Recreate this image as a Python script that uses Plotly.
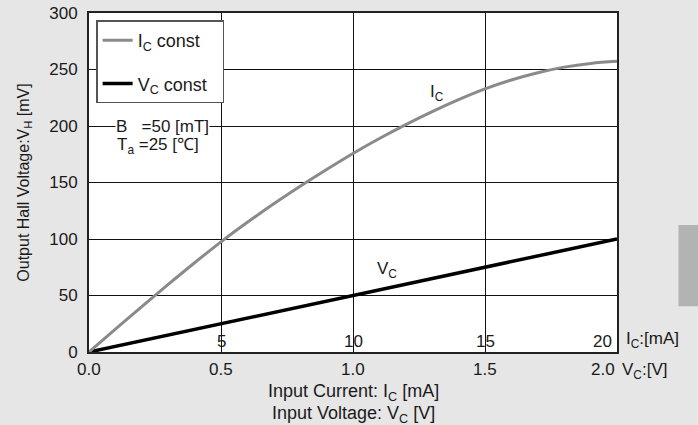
import plotly.graph_objects as go

# ---- data ----
ic_ma = [0, 1, 2, 3, 4, 5, 6, 7, 8, 9, 10, 11, 12, 13, 14, 15, 16, 17, 18, 19, 20]
vh_ic = [0, 20.2, 40.2, 59.8, 79.0, 97.5, 114.8, 131.2, 146.7, 161.5, 175.7,
         188.9, 201.2, 212.7, 223.3, 232.8, 240.7, 247.1, 252.1, 255.4, 257.2]
vc_v = [0.0, 0.5, 1.0, 1.5, 2.0]
vh_vc = [0, 25, 50, 75, 100]

x_tick_vals = [0.0, 0.5, 1.0, 1.5, 2.0]
x_tick_text = ["0.0", "0.5", "1.0", "1.5", "2.0"]
ma_tick_vals = [5, 10, 15, 20]
ma_tick_text = ["5", "10", "15", "20"]
y_tick_vals = [0, 50, 100, 150, 200, 250, 300]

FONT = "Liberation Sans, Arial, sans-serif"
TXT = "#1a1a1a"


def f(size):
    return dict(size=size, color=TXT, family=FONT)


fig = go.Figure()
fig.add_trace(go.Scatter(x=ic_ma, y=vh_ic, mode="lines",
                         name="I<sub>C</sub> const\u00a0\u00a0",
                         line=dict(color="#8a8a8a", width=3, shape="spline"),
                         xaxis="x2", yaxis="y", legendgroup="a"))
fig.add_trace(go.Scatter(x=vc_v, y=vh_vc, mode="lines",
                         name="V<sub>C</sub> const\u00a0\u00a0",
                         line=dict(color="#000000", width=3.5),
                         xaxis="x", yaxis="y", legendgroup="b"))

annotations = []
# x tick labels (V scale)
for i, (v, t) in enumerate(zip(x_tick_vals, x_tick_text)):
    last = i == len(x_tick_vals) - 1
    annotations.append(dict(x=v, y=0, xref="x", yref="y", text=t, showarrow=False,
                            xanchor="right" if last else "center", yanchor="top",
                            yshift=-6, font=f(17)))
# inner mA labels
for i, (v, t) in enumerate(zip(ma_tick_vals, ma_tick_text)):
    last = i == len(ma_tick_vals) - 1
    annotations.append(dict(x=v, y=0, xref="x2", yref="y", text=t, showarrow=False,
                            xanchor="right" if last else "center", yanchor="bottom",
                            xshift=-3 if last else 0, yshift=-1, font=f(17)))
annotations += [
    dict(x=1.0, y=0, xref="paper", yref="y", text="I<sub>C</sub>:[mA]", showarrow=False,
         xanchor="left", yanchor="bottom", xshift=7, yshift=-1, font=f(17)),
    dict(x=1.0, y=0, xref="paper", yref="y", text="V<sub>C</sub>:[V]", showarrow=False,
         xanchor="left", yanchor="top", xshift=3, yshift=-6, font=f(17)),
    dict(x=0.5, y=0, xref="paper", yref="y", showarrow=False,
         text="Input Current: I<sub>C</sub> [mA]",
         xanchor="center", yanchor="middle", yshift=-40, font=f(18)),
    dict(x=0.5, y=0, xref="paper", yref="y", showarrow=False,
         text="Input Voltage: V<sub>C</sub> [V]",
         xanchor="center", yanchor="middle", yshift=-62, font=f(18)),
    dict(x=1.318, y=229, xref="x", yref="y", text="I<sub>C</sub>", showarrow=False,
         font=f(17)),
    dict(x=1.129, y=72.4, xref="x", yref="y", text="V<sub>C</sub>", showarrow=False,
         font=f(17)),
    dict(x=0.1, y=200, xref="x", yref="y", text="B\u00a0\u00a0\u00a0=50 [mT]",
         showarrow=False, xanchor="left", yanchor="middle", bgcolor="white",
         borderpad=0, xshift=0, font=f(17)),
    dict(x=0.1, y=182, xref="x", yref="y", text="T<sub>a</sub> =25 [\u2103]",
         showarrow=False, xanchor="left", yanchor="middle", xshift=0, font=f(17)),
]

shapes = [
    dict(type="rect", xref="paper", yref="paper", x0=1.1164, x1=1.2, y0=0.135, y1=0.3744,
         fillcolor="#b3b3b3", line=dict(width=0), layer="below"),
]

fig.update_layout(
    width=698, height=425,
    margin=dict(l=89, r=80.5, t=13.3, b=73.3, pad=0),
    paper_bgcolor="#e6e6e6", plot_bgcolor="white",
    font=dict(family=FONT, size=16, color=TXT),
    showlegend=True,
    legend=dict(x=0.0135, y=0.978, xanchor="left", yanchor="top",
                bgcolor="white", bordercolor="#555555", borderwidth=1.5,
                font=f(18), itemwidth=30, tracegroupgap=17, traceorder="grouped"),
    xaxis=dict(range=[0, 2], tickvals=x_tick_vals, showticklabels=False,
               showgrid=True, gridcolor="#111111", gridwidth=1.2,
               showline=True, linecolor="#222222", linewidth=2, mirror=True,
               zeroline=False, ticks="", automargin=False),
    xaxis2=dict(range=[0, 20], overlaying="x", anchor="y", visible=False),
    yaxis=dict(range=[0, 300], tickvals=y_tick_vals, showgrid=True,
               gridcolor="#111111", gridwidth=1.2,
               showline=True, linecolor="#222222", linewidth=2, mirror=True,
               zeroline=False, ticks="", ticklabelstandoff=6,
               ticklabeloverflow="allow", automargin=False,
               tickfont=f(17),
               title=dict(text="Output Hall Voltage:V<sub>H</sub> [mV]", standoff=16,
                          font=f(16))),
    annotations=annotations,
    shapes=shapes,
)

fig.write_html("out.html",
               config={"displayModeBar": False},
               post_script="document.body.style.margin='0';"
                           "document.body.style.background='#e6e6e6';")
